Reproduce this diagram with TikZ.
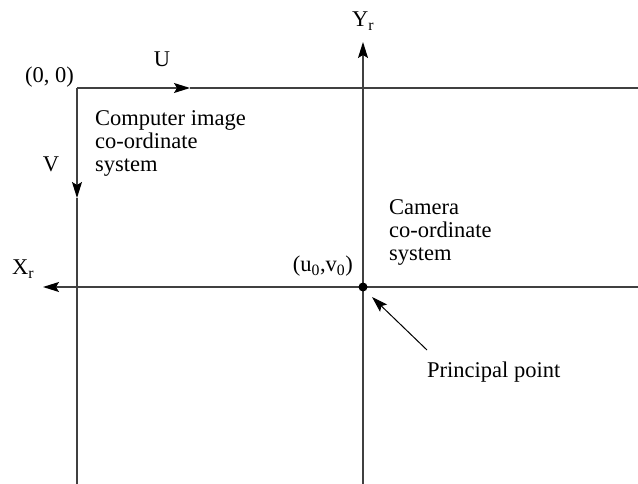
\documentclass[tikz,border=0pt]{standalone}
\usepackage{fontspec}
\setmainfont{Liberation Serif}
\usetikzlibrary{arrows.meta}
\begin{document}
\begin{tikzpicture}[x=1pt,y=-1pt,
  axis/.style={line width=1.3pt,draw=black!75},
  tip/.style={-{Stealth[length=16pt,width=10pt,inset=3pt,color=black]}},
  lbl/.style={inner sep=0pt,font=\fontsize{22.5}{23.5}\selectfont},
  multi/.style={lbl,align=left,anchor=base west}]
\useasboundingbox (0,0) rectangle (638,484);
% coordinates
\coordinate (o) at (77,88);
\coordinate (utip) at (190,88);
\coordinate (tr) at (638,88);
\coordinate (vtip) at (77,198);
\coordinate (lb) at (77,484);
\coordinate (c) at (363,287);
\coordinate (ytip) at (363,42);
\coordinate (cb) at (363,484);
\coordinate (xtip) at (43,287);
\coordinate (cr) at (638,287);
% axes
\draw[axis,tip] (o) -- (utip);
\draw[axis] (utip) -- (tr);
\draw[axis,tip] (o) -- (vtip);
\draw[axis] (vtip) -- (lb);
\draw[axis,tip] (cb) -- (ytip);
\draw[axis,tip] (cr) -- (xtip);
\fill (c) circle (4.5pt);
% labels
\node[lbl,anchor=base east] (orig) at (74,83) {(0, 0)};
\node[lbl,anchor=base] (U) at (162,67) {U};
\node[lbl,anchor=base] (V) at (51,172) {V};
\node[lbl,anchor=base west] (Y) at (352,27) {Y\textsubscript{r}};
\node[lbl,anchor=base west] (X) at (12,275) {X\textsubscript{r}};
\node[lbl,anchor=base east] (uv) at (353,272) {(u\textsubscript{0},v\textsubscript{0})};
\node[multi] (cim) at (95,172) {Computer image\\co-ordinate\\system};
\node[multi] (cam) at (389,261) {Camera\\co-ordinate\\system};
\node[lbl,anchor=base west] (pp) at (427,377) {Principal point};
\coordinate (pptail) at (427,350);
\coordinate (pptip) at (372,297);
\draw[line width=1pt,-{Stealth[length=16pt,width=10pt,inset=3pt]}] (pptail) -- (pptip);
\end{tikzpicture}
\end{document}
